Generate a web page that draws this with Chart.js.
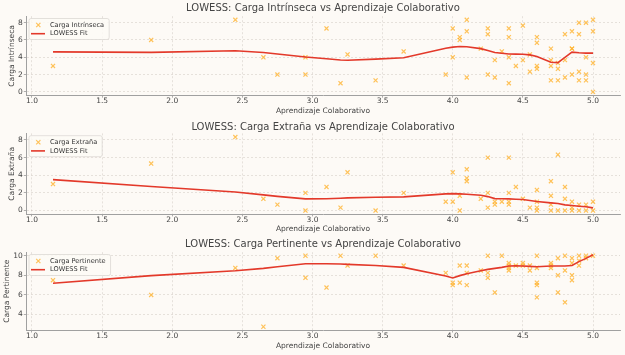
<!DOCTYPE html>
<html>
<head>
<meta charset="utf-8">
<script src="https://cdn.jsdelivr.net/npm/chart.js@4/dist/chart.umd.min.js"></script>
<style>
  html, body { margin:0; padding:0; background:#fdfaf6; width:625px; height:355px; overflow:hidden; }
  canvas { position:absolute; left:0; }
</style>
</head>
<body>
<canvas id="c1"></canvas>
<canvas id="c2"></canvas>
<canvas id="c3"></canvas>
<script>
// ---------- DATA ----------
const xLabel = "Aprendizaje Colaborativo";
const titles = [
  "LOWESS: Carga Intrínseca vs Aprendizaje Colaborativo",
  "LOWESS: Carga Extraña vs Aprendizaje Colaborativo",
  "LOWESS: Carga Pertinente vs Aprendizaje Colaborativo"
];
const yLabels = ["Carga Intrínseca", "Carga Extraña", "Carga Pertinente"];
const fitLabel = "LOWESS Fit";

const intrinsecaX = [1.15,1.85,2.45,2.65,2.75,2.95,2.95,3.10,3.20,3.25,3.45,3.65,3.95,4.00,4.00,4.05,4.05,4.10,4.10,4.10,4.20,4.25,4.25,4.25,4.30,4.30,4.35,4.40,4.40,4.40,4.40,4.45,4.50,4.50,4.55,4.55,4.60,4.60,4.60,4.60,4.70,4.70,4.70,4.70,4.75,4.75,4.75,4.80,4.80,4.80,4.85,4.85,4.85,4.85,4.90,4.90,4.90,4.90,4.95,4.95,4.95,4.95,5.00,5.00,5.00,5.00];
const intrinsecaY = [3,6,8.33,4,2,4,2,7.33,1,4.33,1.33,4.67,2,7.33,4,6.33,6,8.33,7,1.67,5,7.33,6.67,2,3.67,1.67,4.67,7.33,6.33,4,1,3,7.67,3.67,4.33,2.33,6.33,5.67,3,2.67,5,3.67,3,1.33,3.33,2.67,1.33,6.67,3.67,1.67,7,5,5,2,8,6.67,2.33,1.33,8,4,2,1.33,8.33,7,3.33,0];

const extranaX = [1.15,1.85,2.45,2.65,2.75,2.95,2.95,3.10,3.20,3.25,3.45,3.65,3.95,4.00,4.00,4.05,4.05,4.10,4.10,4.10,4.20,4.25,4.25,4.25,4.30,4.30,4.35,4.40,4.40,4.40,4.40,4.45,4.50,4.55,4.60,4.60,4.60,4.60,4.70,4.70,4.70,4.70,4.75,4.75,4.80,4.80,4.80,4.85,4.85,4.85,4.90,4.90,4.95,4.95,5.00,5.00];
const extranaY = [3,5.33,8.33,1.33,0.67,2,0,2.67,0.33,4.33,0,2,1,4.33,1,1.67,0,4.67,3.67,3.33,1.33,6,2,0.33,1,0.67,1,6,2,1,0.67,2.67,1.33,0.33,2.33,1,0.33,0,3.33,1.67,0.67,0,6.33,0,2.67,1.33,0,1,0.33,0,0.67,0,0.67,0,1,0];

const pertinenteX = [1.15,1.85,2.45,2.65,2.75,2.95,2.95,3.10,3.20,3.25,3.45,3.65,3.95,4.00,4.00,4.05,4.05,4.10,4.10,4.10,4.20,4.25,4.25,4.25,4.30,4.35,4.40,4.40,4.40,4.40,4.45,4.50,4.50,4.55,4.55,4.60,4.60,4.60,4.60,4.60,4.70,4.70,4.70,4.75,4.75,4.75,4.80,4.80,4.80,4.85,4.85,4.85,4.85,4.90,4.90,4.90,4.95,4.95,5.00];
const pertinenteY = [7.5,6,8.75,2.75,9.75,10,7.75,6.75,10,9,10,9,8.25,7.25,7,9,7.25,9,8.25,7,8.5,10,8.25,7.75,6.25,10,9.25,9,8.75,8.5,9,9.25,9,9,8.5,10,8.75,7.25,7,5.75,9.25,9,8.75,9.75,8,6.25,10,8.5,5.25,9.75,9.25,8,7.5,10,9.5,9,10,9.75,10];

const lowessX = [1.15,1.85,2.45,2.65,2.75,2.95,3.10,3.20,3.25,3.45,3.65,3.95,4.00,4.05,4.10,4.20,4.25,4.30,4.35,4.40,4.45,4.50,4.55,4.60,4.70,4.75,4.80,4.85,4.90,4.95,5.00];
const lowessIntrinseca = [4.63,4.57,4.75,4.55,4.37,4.03,3.83,3.68,3.65,3.79,3.94,5.05,5.17,5.25,5.22,5.0,4.78,4.55,4.47,4.38,4.37,4.35,4.28,4.1,3.42,3.38,3.98,4.6,4.52,4.48,4.48];
const lowessExtrana = [3.5,2.72,2.1,1.77,1.6,1.32,1.34,1.4,1.43,1.5,1.55,1.89,1.92,1.89,1.85,1.74,1.58,1.35,1.33,1.32,1.28,1.25,1.13,1.02,0.87,0.79,0.64,0.57,0.49,0.42,0.3];
const lowessPertinente = [7.19,7.97,8.47,8.71,8.88,9.19,9.19,9.15,9.12,9.0,8.81,7.93,7.73,7.97,8.17,8.47,8.61,8.71,8.81,8.95,8.98,8.96,8.92,8.88,8.95,8.95,8.95,9.0,9.4,9.73,10.1];

const xTicks = [1.0,1.5,2.0,2.5,3.0,3.5,4.0,4.5,5.0];
const yTicksA = [0,2,4,6,8];
const yTicksB = [0,2,4,6,8];
const yTicksC = [4,6,8,10];

// ---------- LAYOUT / STYLE ----------
const FONT = "'DejaVu Sans', sans-serif";
const TEXT = '#444';
const panels = [
  { id:'c1', top:0,   titleC:8.5,   plotTop:16.2,  plotBottom:95.5,  xTitleC:111,   yTitlePad:7.5,
    xs:intrinsecaX, ys:intrinsecaY, fit:lowessIntrinseca, yTicks:yTicksA, ymin:-0.4165, ymax:8.7465 },
  { id:'c2', top:115, titleC:127.3, plotTop:133.4, plotBottom:214.2, xTitleC:229,   yTitlePad:7.5,
    xs:extranaX, ys:extranaY, fit:lowessExtrana, yTicks:yTicksB, ymin:-0.4165, ymax:8.7465 },
  { id:'c3', top:232, titleC:244,   plotTop:252.2, plotBottom:330.3, xTitleC:346.5, yTitlePad:2.5,
    xs:pertinenteX, ys:pertinenteY, fit:lowessPertinente, yTicks:yTicksC, ymin:2.3875, ymax:10.3625 }
];

const legendPlugin = {
  id: 'boxLegend',
  afterDatasetsDraw(chart) {
    const ctx = chart.ctx, a = chart.chartArea;
    const ds = chart.data.datasets;
    ctx.save();
    ctx.font = "6.6px " + FONT;
    const w = Math.max(...ds.map(d => ctx.measureText(d.label).width));
    const bx = a.left + 3, by = a.top + 2.3, bw = 21 + w + 5, bh = 21;
    ctx.beginPath();
    if (ctx.roundRect) ctx.roundRect(bx, by, bw, bh, 2); else ctx.rect(bx, by, bw, bh);
    ctx.fillStyle = 'rgba(253,250,246,0.85)';
    ctx.fill();
    ctx.strokeStyle = '#dcd8d4';
    ctx.lineWidth = 0.8;
    ctx.stroke();
    // scatter sample
    const mx = bx + 9.3, my = by + 6.5, r = 2.1;
    ctx.strokeStyle = ds[0].borderColor;
    ctx.lineWidth = 1.2;
    ctx.beginPath();
    ctx.moveTo(mx - r, my - r); ctx.lineTo(mx + r, my + r);
    ctx.moveTo(mx - r, my + r); ctx.lineTo(mx + r, my - r);
    ctx.stroke();
    // line sample
    const ly = by + 15.2;
    ctx.strokeStyle = ds[1].borderColor;
    ctx.lineWidth = 1.6;
    ctx.beginPath(); ctx.moveTo(bx + 2, ly); ctx.lineTo(bx + 16, ly); ctx.stroke();
    ctx.fillStyle = '#333';
    ctx.textBaseline = 'middle';
    ctx.textAlign = 'left';
    ctx.fillText(ds[0].label, bx + 21, my);
    ctx.fillText(ds[1].label, bx + 21, ly);
    ctx.restore();
  }
};

panels.forEach((p, i) => {
  const titleLH = 12;      // 10px * 1.2
  const axTitleLH = 9;     // 7.5px * 1.2
  const H = Math.round(p.xTitleC - p.top + axTitleLH / 2 + 1);
  const padTop = p.titleC - p.top - titleLH / 2;
  const padBottom = (p.plotTop - p.top) - padTop - titleLH;
  const xAxisH = p.top + H - p.plotBottom;

  const cv = document.getElementById(p.id);
  cv.width = 625; cv.height = H;
  cv.style.top = p.top + 'px';
  cv.style.width = '625px'; cv.style.height = H + 'px';

  const scatterPts = p.xs.map((x, k) => ({ x: x, y: p.ys[k] }));
  const fitPts = lowessX.map((x, k) => ({ x: x, y: p.fit[k] }));

  new Chart(cv, {
    type: 'scatter',
    data: {
      datasets: [
        { label: yLabels[i], data: scatterPts, pointStyle: 'crossRot', pointRadius: 2.9,
          borderColor: 'rgba(255,172,28,0.72)', backgroundColor: 'rgba(255,172,28,0.72)',
          pointBorderWidth: 1.2, pointHoverRadius: 2.9, order: 2 },
        { type: 'line', label: fitLabel, data: fitPts, showLine: true, pointRadius: 0,
          borderColor: '#e3392a', borderWidth: 1.6, tension: 0, fill: false, order: 1 }
      ]
    },
    options: {
      responsive: false, devicePixelRatio: 1, animation: false,
      layout: { padding: { left: 0, right: 5, top: 0, bottom: 0 } },
      plugins: {
        legend: { display: false },
        tooltip: { enabled: false },
        title: { display: true, text: titles[i], fullSize: false, color: TEXT,
          font: { family: FONT, size: 10, weight: 'normal', lineHeight: 1.2 },
          padding: { top: padTop, bottom: padBottom } }
      },
      scales: {
        x: {
          type: 'linear', min: 0.9575, max: 5.1925,
          afterFit: s => { s.height = xAxisH; },
          afterBuildTicks: s => { s.ticks = xTicks.map(v => ({ value: v })); },
          ticks: { includeBounds: false, color: TEXT, padding: 0, maxRotation: 0, autoSkip: false,
            font: { family: FONT, size: 7.5, lineHeight: 1 },
            callback: v => Number(v).toFixed(1) },
          grid: { color: 'rgba(170,160,150,0.35)', lineWidth: 0.8, drawTicks: true, tickLength: 2.2,
            tickColor: '#9a9a9a', tickWidth: 0.8, tickBorderDash: [] },
          border: { display: true, color: '#a0a0a0', width: 1, dash: [2, 2] },
          title: { display: true, text: xLabel, color: TEXT, padding: { top: 0, bottom: 1 },
            font: { family: FONT, size: 7.5, lineHeight: 1.2 } }
        },
        y: {
          type: 'linear', min: p.ymin, max: p.ymax,
          afterFit: s => { s.width = 26; },
          afterBuildTicks: s => { s.ticks = p.yTicks.map(v => ({ value: v })); },
          ticks: { includeBounds: false, color: TEXT, padding: 1, autoSkip: false,
            font: { family: FONT, size: 7.5, lineHeight: 1 },
            callback: v => String(Math.round(v)) },
          grid: { color: 'rgba(170,160,150,0.35)', lineWidth: 0.8, drawTicks: true, tickLength: 2.2,
            tickColor: '#9a9a9a', tickWidth: 0.8, tickBorderDash: [] },
          border: { display: true, color: '#a0a0a0', width: 1, dash: [2, 2] },
          title: { display: true, text: yLabels[i], color: TEXT, padding: { top: p.yTitlePad, bottom: 0 },
            font: { family: FONT, size: 7.5, lineHeight: 1.2 } }
        }
      }
    },
    plugins: [legendPlugin]
  });
});
</script>
</body>
</html>
